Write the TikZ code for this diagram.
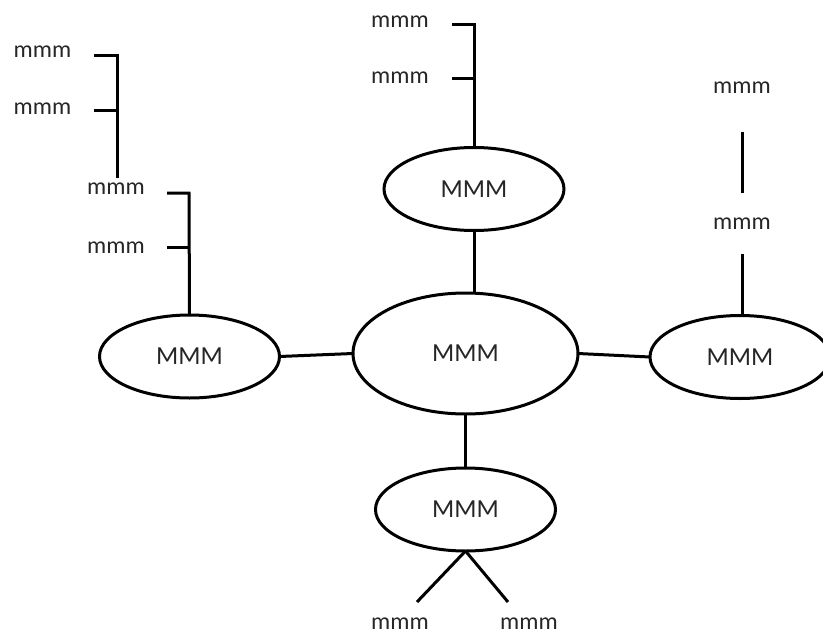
\documentclass[tikz,border=0pt]{standalone}
\usepackage{fontspec}
\setmainfont{Carlito}
\usetikzlibrary{shapes.geometric}
\begin{document}
\begin{tikzpicture}[x=1pt,y=-1pt,
  conn/.style={line width=3pt},
  bub/.style={ellipse,draw,line width=3pt,minimum width=180pt,minimum height=83pt,outer sep=0pt,inner sep=2pt,font=\fontsize{26}{30}\selectfont,text=black!85},
  lbl/.style={font=\fontsize{24}{28}\selectfont,inner sep=5pt,text=black!85}]
\useasboundingbox (0,0) rectangle (823,635);

% ellipses
\node[bub,minimum width=225pt,minimum height=121pt] (C) at (465.5,353.5) {MMM};
\node[bub] (L) at (189.5,356.5) {MMM};
\node[bub] (T) at (474,189) {MMM};
\node[bub] (B) at (465.5,509.5) {MMM};
\node[bub] (R) at (740,357) {MMM};

% connectors between ellipses
\draw[conn] (L.east) -- (C.west);
\draw[conn] (C.east) -- (R.west);
\draw[conn] (T.south) -- (T.south |- C.north);
\draw[conn] (C.south) -- (B.north);

% top group
\node[lbl] (t1) at (400,22) {mmm};
\node[lbl] (t2) at (400,78) {mmm};
\coordinate (tc1) at (474,24);
\coordinate (tc2) at (474,78);
\draw[conn] (T.north) -- (tc1) -- ++(-22,0);
\draw[conn] (tc2) -- ++(-22,0);

% left group (lower bracket)
\node[lbl] (l3) at (116,189) {mmm};
\node[lbl] (l4) at (116,247.5) {mmm};
\coordinate (lc1) at (189,193);
\coordinate (lc2) at (189,247);
\draw[conn] (L.north) -- (lc1) -- ++(-22,0);
\draw[conn] (lc2) -- ++(-22,0);

% left group (upper bracket)
\node[lbl] (l1) at (42.5,51.5) {mmm};
\node[lbl] (l2) at (42.5,108.5) {mmm};
\coordinate (uc1) at (117,55);
\coordinate (uc2) at (117,110);
\draw[conn] (uc1 |- l3.north) -- (uc1) -- ++(-23,0);
\draw[conn] (uc2) -- ++(-23,0);

% right group
\node[lbl] (r1) at (742,87.5) {mmm};
\node[lbl] (r2) at (742,224) {mmm};
\draw[conn,shorten <=33pt,shorten >=20pt] (r1.south) -- (r2.north);
\draw[conn,shorten <=19pt] (r2.south) -- (r2.south |- R.north);

% bottom group
\node[lbl,inner sep=1pt] (b1) at (400,624) {mmm};
\node[lbl,inner sep=1pt] (b2) at (529,624) {mmm};
\coordinate (bc1) at (417,602);
\coordinate (bc2) at (508,602);
\draw[conn] (B.south) -- (bc1);
\draw[conn] (B.south) -- (bc2);
\end{tikzpicture}
\end{document}
